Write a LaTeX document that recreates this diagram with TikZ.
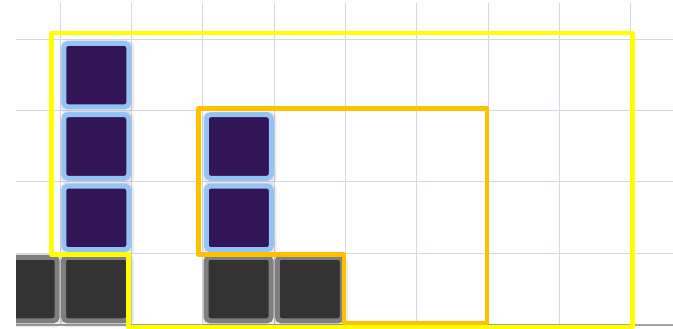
\documentclass[tikz,border=0pt]{standalone}
\usetikzlibrary{calc}
\definecolor{gridc}{HTML}{D6D6E8}
\definecolor{purp}{HTML}{311557}
\definecolor{lblue}{HTML}{94C4F6}
\definecolor{dgray}{HTML}{333333}
\definecolor{mgray}{HTML}{7F7F7F}
\definecolor{baseg}{HTML}{A3A3A3}
\definecolor{yel}{HTML}{FFFF00}
\definecolor{org}{HTML}{FFC000}
\tikzset{
  shadowbox/.style={draw=none, fill=black, fill opacity=0.08, rounded corners=7pt, inner sep=0pt,
    minimum width=74pt, minimum height=73pt},
  pblock/.style={draw=lblue, line width=5pt, fill=purp, rounded corners=4pt, inner sep=0pt,
    minimum width=65pt, minimum height=63.5pt},
  dblock/.style={draw=mgray, line width=5pt, fill=dgray, rounded corners=4pt, inner sep=0pt,
    minimum width=65pt, minimum height=63.5pt},
  gridline/.style={draw=gridc, line width=1pt},
  yelline/.style={draw=yel, line width=4.5pt, line join=round},
  orgline/.style={draw=org, line width=4.5pt, line join=round},
}
\begin{document}
\begin{tikzpicture}[x=1pt,y=-1pt]
\useasboundingbox (0,0) rectangle (673,329);
\fill[white] (0,0) rectangle (673,329);
% grid
\foreach \k in {0,...,8} {
  \draw[gridline] (60.3+71.3*\k,3) -- (60.3+71.3*\k,325);
}
\foreach \k in {0,...,3} {
  \draw[gridline] (16,39.3+71.3*\k) -- (673,39.3+71.3*\k);
}
% base line
\draw[draw=baseg, line width=2.5pt] (16,324.8) -- (673,324.8);
\begin{scope}
\clip (16,0) rectangle (673,329);
% shadows
\foreach \cx/\cy in {96/75.2, 96/146.5, 96/217.8, 238.5/146.5, 238.5/217.8, 25/289, 96/289, 238.5/289, 309.8/289} {
  \node[shadowbox] at (\cx+1,\cy+1.5) {};
}
% dark blocks (bottom row)
\node[dblock] (d0) at (24.7,289) {};
\node[dblock] (d1) at (96,289) {};
\node[dblock] (d2) at (238.5,289) {};
\node[dblock] (d3) at (309.8,289) {};
\end{scope}
% purple blocks
\node[pblock] (p1) at (96.3,75.2) {};
\node[pblock] (p2) at (96.3,146.5) {};
\node[pblock] (p3) at (96.3,217.8) {};
\node[pblock] (p4) at (238.8,146.5) {};
\node[pblock] (p5) at (238.8,217.8) {};
% outlines
\draw[orgline] (198.5,108.5) -- (487,108.5) -- (487,323) -- (344,323) -- (344,254.5) -- (198.5,254.5) -- cycle;
\draw[yelline] (51.5,33) -- (632.5,33) -- (632.5,327) -- (128.5,327) -- (128.5,254.5) -- (51.5,254.5) -- cycle;
\end{tikzpicture}
\end{document}
